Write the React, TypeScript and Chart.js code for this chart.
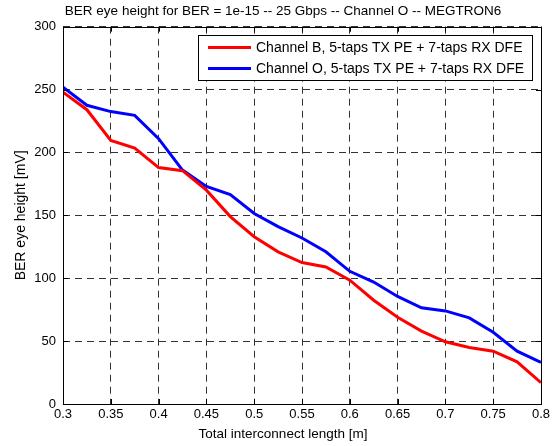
import React, { useEffect, useRef } from "react";
import { Chart, registerables } from "chart.js";

Chart.register(...registerables);

const FONT = '"Liberation Sans", Arial, Helvetica, sans-serif';

const titleText = "BER eye height for BER = 1e-15 -- 25 Gbps -- Channel O -- MEGTRON6";
const xAxisTitle = "Total interconnect length [m]";
const yAxisTitle = "BER eye height [mV]";

const lengths = [
  0.3, 0.325, 0.35, 0.375, 0.4, 0.425, 0.45, 0.475, 0.5, 0.525, 0.55,
  0.575, 0.6, 0.625, 0.65, 0.675, 0.7, 0.725, 0.75, 0.775, 0.8,
];
const channelB = [
  248, 234, 209.5, 203.5, 188, 185.5, 170, 149, 133, 121, 112.5,
  109, 98.5, 82.5, 69, 58, 49.5, 45, 42, 33.5, 17,
];
const channelO = [
  252, 237.5, 232.5, 229.5, 211, 186, 173, 166.5, 151.5, 141, 132,
  121, 105.5, 97, 85.5, 76.5, 74, 68.5, 57, 42, 33,
];
const seriesLabels = [
  "Channel B, 5-taps TX PE + 7-taps RX DFE",
  "Channel O, 5-taps TX PE + 7-taps RX DFE",
];
const seriesColors = ["#ff0000", "#0000ff"];
const xTicks = [0.3, 0.35, 0.4, 0.45, 0.5, 0.55, 0.6, 0.65, 0.7, 0.75, 0.8];
const yTicks = [0, 50, 100, 150, 200, 250, 300];

const boxPlugin = {
  id: "matlabBox",
  afterDatasetsDraw(chart: any) {
    const { ctx, chartArea, scales } = chart;
    const { left, right, top, bottom } = chartArea;
    ctx.save();
    ctx.strokeStyle = "#000";
    ctx.lineWidth = 1;
    ctx.setLineDash([]);
    ctx.beginPath();
    const tl = 5;
    for (const v of xTicks) {
      const x = Math.round(scales.x.getPixelForValue(v)) + 0.5;
      ctx.moveTo(x, bottom);
      ctx.lineTo(x, bottom - tl);
      ctx.moveTo(x, top);
      ctx.lineTo(x, top + tl);
    }
    for (const v of yTicks) {
      const y = Math.round(scales.y.getPixelForValue(v)) + 0.5;
      ctx.moveTo(left, y);
      ctx.lineTo(left + tl, y);
      ctx.moveTo(right, y);
      ctx.lineTo(right - tl, y);
    }
    ctx.stroke();
    ctx.strokeRect(Math.round(left) + 0.5, Math.round(top) + 0.5, Math.round(right - left), Math.round(bottom - top));
    ctx.restore();
  },
};

const legendPlugin = {
  id: "boxLegend",
  afterDraw(chart: any) {
    const { ctx, chartArea } = chart;
    ctx.save();
    // x-axis title, centred like the figure title
    const tb = chart.titleBlock;
    ctx.font = `13.5px ${FONT}`;
    ctx.fillStyle = "#000";
    ctx.textAlign = "center";
    ctx.textBaseline = "middle";
    ctx.fillText(xAxisTitle, (tb.left + tb.right) / 2, chart.height - 12);

    ctx.font = `14px ${FONT}`;
    const labels = chart.data.datasets.map((d: any) => d.label);
    const tw = Math.max(...labels.map((l: string) => ctx.measureText(l).width));
    const right = Math.round(chartArea.right - 9);
    const top = Math.round(chartArea.top + 8);
    const w = Math.round(10 + 43 + 5 + tw + 8);
    const left = right - w;
    const h = 45;
    ctx.fillStyle = "#fff";
    ctx.fillRect(left, top, w, h);
    ctx.strokeStyle = "#000";
    ctx.lineWidth = 1;
    ctx.strokeRect(left + 0.5, top + 0.5, w, h);
    chart.data.datasets.forEach((d: any, i: number) => {
      const y = top + 12.5 + i * 21;
      ctx.strokeStyle = d.borderColor;
      ctx.lineWidth = 3;
      ctx.beginPath();
      ctx.moveTo(left + 10, y);
      ctx.lineTo(left + 53, y);
      ctx.stroke();
      ctx.fillStyle = "#000";
      ctx.textBaseline = "middle";
      ctx.textAlign = "left";
      ctx.fillText(d.label, left + 58, y + 0.5);
    });
    ctx.restore();
  },
};

export default function App() {
  const ref = useRef<HTMLCanvasElement | null>(null);
  useEffect(() => {
    if (!ref.current) return;
    Chart.defaults.font.family = FONT;
    const chart = new Chart(ref.current, {
      type: "line",
      data: {
        datasets: [
          {
            label: seriesLabels[0],
            data: lengths.map((x, i) => ({ x, y: channelB[i] })),
            borderColor: seriesColors[0],
            backgroundColor: seriesColors[0],
            borderWidth: 3,
            pointRadius: 0,
            tension: 0,
          },
          {
            label: seriesLabels[1],
            data: lengths.map((x, i) => ({ x, y: channelO[i] })),
            borderColor: seriesColors[1],
            backgroundColor: seriesColors[1],
            borderWidth: 3,
            pointRadius: 0,
            tension: 0,
          },
        ],
      },
      options: {
        animation: false,
        responsive: false,
        devicePixelRatio: 1,
        layout: { padding: { left: 10, right: 0, top: 0, bottom: 0 } },
        plugins: {
          legend: { display: false },
          tooltip: { enabled: false },
          title: {
            display: true,
            text: titleText,
            color: "#000",
            font: { size: 13.5, weight: "normal" },
            padding: { top: 3.5, bottom: 7 },
          },
        },
        scales: {
          x: {
            type: "linear",
            min: 0.3,
            max: 0.8,
            afterFit: (s: any) => { s.height = 42; },
            afterBuildTicks: (s: any) => { s.ticks = xTicks.map((v) => ({ value: v })); },
            ticks: {
              color: "#000",
              font: { size: 13 },
              padding: 3,
              maxRotation: 0,
              autoSkip: false,
              callback: (v: any) => String(Number(Number(v).toFixed(2))),
            },
            grid: { color: "#333", lineWidth: 1, drawTicks: false },
            border: { display: false, dash: [7, 5] },
            title: { display: false },
          },
          y: {
            type: "linear",
            min: 0,
            max: 300,
            afterFit: (s: any) => { s.width = 53; },
            afterBuildTicks: (s: any) => { s.ticks = yTicks.map((v) => ({ value: v })); },
            ticks: { color: "#000", font: { size: 13 }, padding: 7 },
            grid: { color: "#333", lineWidth: 1, drawTicks: false },
            border: { display: false, dash: [7, 5] },
            title: {
              display: true,
              text: yAxisTitle,
              color: "#000",
              font: { size: 14 },
              padding: { top: 3, bottom: 0 },
            },
          },
          yRight: {
            type: "linear",
            position: "right",
            min: 0,
            max: 300,
            afterFit: (s: any) => { s.width = 15; },
            ticks: { display: false },
            grid: { display: false, drawTicks: false },
            border: { display: false },
          },
        },
      },
      plugins: [boxPlugin, legendPlugin],
    } as any);
    return () => chart.destroy();
  }, []);
  return (
    <div style={{ position: "fixed", left: 0, top: 0, width: 556, height: 446, background: "#fff" }}>
      <canvas ref={ref} width={556} height={446} style={{ display: "block" }} />
    </div>
  );
}
